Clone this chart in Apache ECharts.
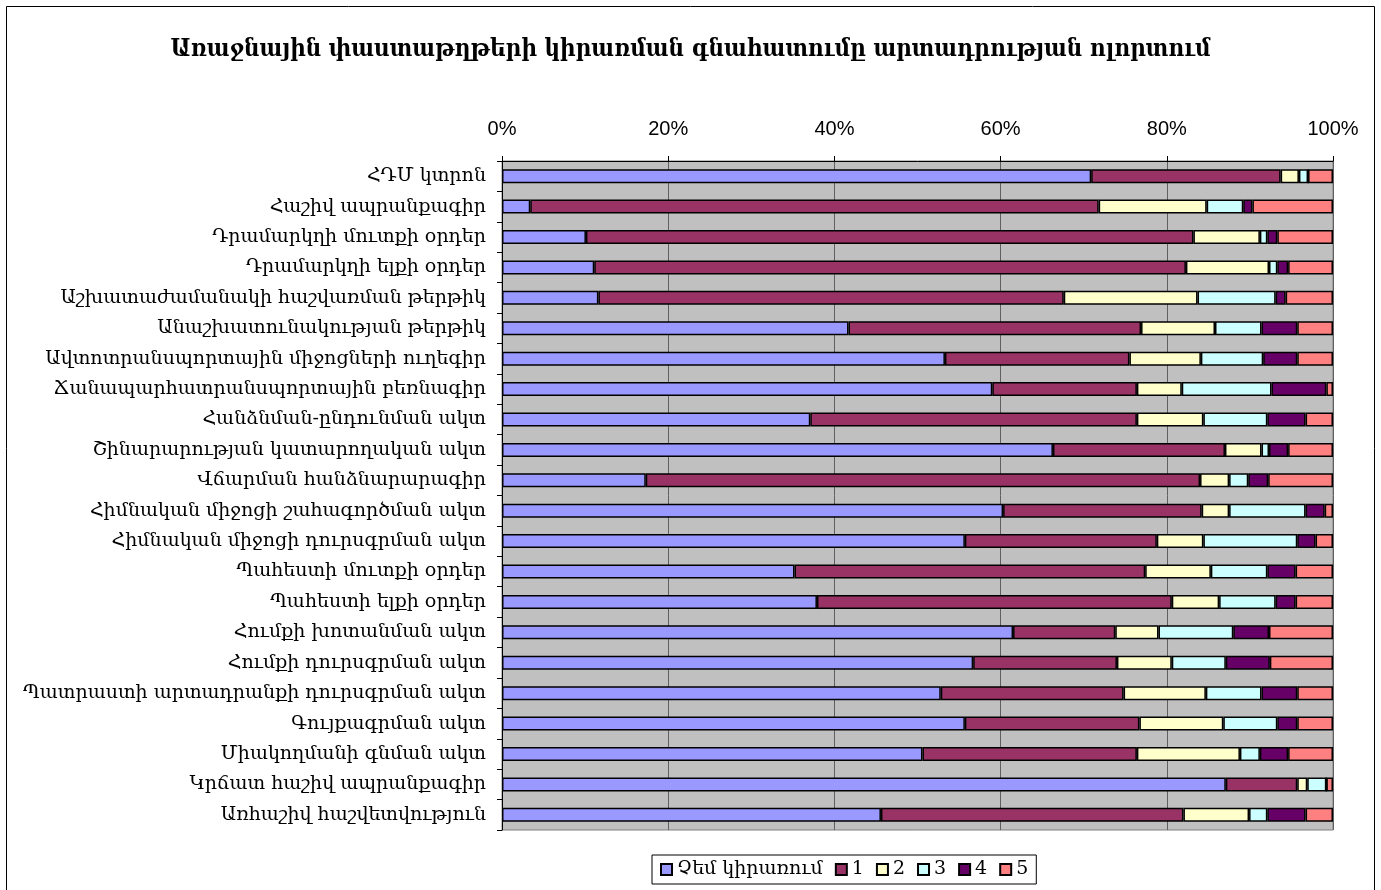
<!DOCTYPE html>
<html>
<head>
<meta charset="utf-8">
<style>
  html, body { margin: 0; padding: 0; background: #fff; }
  #chart { width: 1381px; height: 890px; }
</style>
<script src="https://cdn.jsdelivr.net/npm/echarts@6/dist/echarts.min.js"></script>
</head>
<body>
<div id="chart"></div>
<script>
// Document types (top to bottom)
const categories = [
  'ՀԴՄ կտրոն',
  'Հաշիվ ապրանքագիր',
  'Դրամարկղի մուտքի օրդեր',
  'Դրամարկղի ելքի օրդեր',
  'Աշխատաժամանակի հաշվառման թերթիկ',
  'Անաշխատունակության թերթիկ',
  'Ավտոտրանսպորտային միջոցների ուղեգիր',
  'Ճանապարհատրանսպորտային բեռնագիր',
  'Հանձնման-ընդունման ակտ',
  'Շինարարության կատարողական ակտ',
  'Վճարման հանձնարարագիր',
  'Հիմնական միջոցի շահագործման ակտ',
  'Հիմնական միջոցի դուրսգրման ակտ',
  'Պահեստի մուտքի օրդեր',
  'Պահեստի ելքի օրդեր',
  'Հումքի խոտանման ակտ',
  'Հումքի դուրսգրման ակտ',
  'Պատրաստի արտադրանքի դուրսգրման ակտ',
  'Գույքագրման ակտ',
  'Միակողմանի գնման ակտ',
  'Կրճատ հաշիվ ապրանքագիր',
  'Առհաշիվ հաշվետվություն'
];

const seriesNames = ['Չեմ կիրառում', '1', '2', '3', '4', '5'];

// Share of respondents (%) per rating
const notUsed = [70.9, 3.4, 10.1, 11.1, 11.6, 41.7, 53.3, 59.0, 37.1, 66.3, 17.3, 60.3, 55.7, 35.2, 37.9, 61.5, 56.7, 52.8, 55.7, 50.6, 87.1, 45.6];
const rating1 = [22.8, 68.4, 73.1, 71.2, 56.0, 35.2, 22.2, 17.4, 39.3, 20.7, 66.7, 23.9, 23.1, 42.2, 42.7, 12.3, 17.3, 22.0, 21.0, 25.8, 8.6, 36.4];
const rating2 = [2.2, 13.0, 8.0, 10.0, 16.1, 8.9, 8.6, 5.4, 8.0, 4.4, 3.5, 3.3, 5.6, 7.9, 5.7, 5.2, 6.6, 9.9, 10.1, 12.4, 1.2, 7.9];
const rating3 = [1.1, 4.4, 0.9, 1.0, 9.4, 5.6, 7.5, 10.8, 7.7, 0.9, 2.3, 9.2, 11.3, 6.8, 6.8, 9.0, 6.5, 6.7, 6.5, 2.4, 2.3, 2.2];
const rating4 = [0, 1.1, 1.2, 1.3, 1.2, 4.3, 4.1, 6.6, 4.6, 2.3, 2.4, 2.3, 2.2, 3.4, 2.4, 4.3, 5.3, 4.3, 2.4, 3.4, 0, 4.6];
const rating5 = [3.0, 9.7, 6.7, 5.4, 5.7, 4.3, 4.3, 0.8, 3.3, 5.4, 7.8, 1.0, 2.1, 4.5, 4.5, 7.7, 7.6, 4.3, 4.3, 5.4, 0.8, 3.3];

const xTicks = [0, 20, 40, 60, 80, 100];

const palette = ['#9999FF', '#993366', '#FFFFCC', '#CCFFFF', '#660066', '#FF8080'];
const seriesData = [notUsed, rating1, rating2, rating3, rating4, rating5];

const chart = echarts.init(document.getElementById('chart'), null, { renderer: 'canvas' });

const serif = '"DejaVu Serif", "Liberation Serif", serif';

chart.setOption({
  animation: false,
  backgroundColor: '#fff',
  title: {
    text: 'Առաջնային փաստաթղթերի կիրառման գնահատումը արտադրության ոլորտում',
    left: 'center',
    top: 33,
    textStyle: {
      fontFamily: '"DejaVu Serif Condensed", "DejaVu Serif", serif',
      fontWeight: 'bold',
      fontSize: 24,
      color: '#000'
    }
  },
  graphic: [{
    type: 'rect',
    silent: true,
    shape: { x: 6.5, y: 6.5, width: 1368, height: 900 },
    style: { fill: 'none', stroke: '#000', lineWidth: 1 }
  }],
  legend: {
    top: 855,
    left: 652,
    data: seriesNames,
    icon: 'rect',
    itemWidth: 11,
    itemHeight: 11,
    itemGap: 12,
    padding: [5, 8, 5, 8],
    borderColor: '#000',
    borderWidth: 1,
    textStyle: { fontFamily: serif, fontSize: 19, color: '#000' }
  },
  grid: {
    left: 502,
    right: 48,
    top: 161,
    bottom: 60,
    show: true,
    backgroundColor: '#C0C0C0',
    borderColor: '#808080',
    borderWidth: 1
  },
  xAxis: {
    type: 'value',
    position: 'top',
    min: 0,
    max: 100,
    interval: 20,
    axisLine: { show: true, lineStyle: { color: '#000', width: 1 } },
    axisTick: { show: true, length: 5, lineStyle: { color: '#000' } },
    axisLabel: {
      margin: 22,
      fontFamily: '"Liberation Sans", Arial, sans-serif',
      fontSize: 20,
      color: '#000',
      formatter: v => (xTicks.includes(v) ? v + '%' : '')
    },
    splitLine: { show: true, lineStyle: { color: '#606060', width: 1 } }
  },
  yAxis: {
    type: 'category',
    inverse: true,
    data: categories,
    axisLine: { show: true, lineStyle: { color: '#000', width: 1 } },
    axisTick: { show: true, length: 5, lineStyle: { color: '#000' } },
    axisLabel: {
      margin: 16,
      fontFamily: serif,
      fontSize: 19,
      color: '#000'
    }
  },
  series: seriesNames.map((name, i) => ({
    name,
    type: 'bar',
    stack: 'total',
    barWidth: '46%',
    data: seriesData[i],
    itemStyle: {
      color: palette[i],
      borderColor: '#000',
      borderWidth: 1.5
    }
  }))
});
</script>
</body>
</html>
